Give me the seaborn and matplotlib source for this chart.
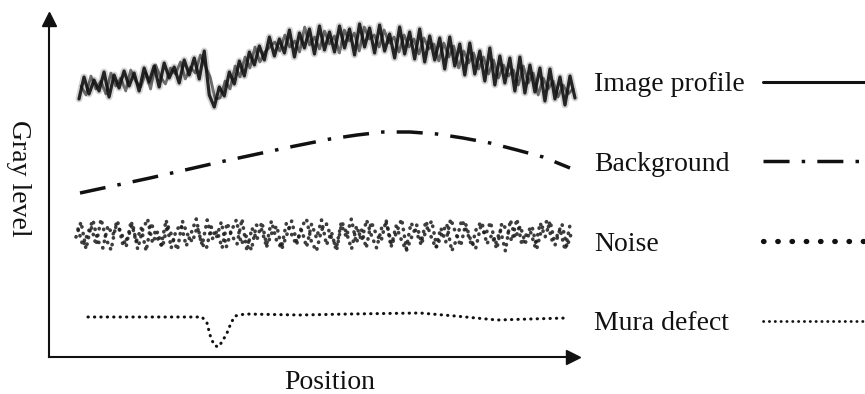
import numpy as np
import matplotlib.pyplot as plt
import seaborn as sns
from matplotlib.lines import Line2D

# gray level samples (arbitrary units, ~1 unit per pixel of the original figure)
profile_vals = [258, 280, 263, 277, 266, 285, 260, 282, 269, 286,
                271, 284, 266, 289, 275, 291, 270, 294, 279, 290,
                274, 297, 282, 299, 278, 306, 262, 250, 270, 261,
                285, 273, 296, 281, 305, 292, 311, 297, 320, 301,
                318, 304, 327, 300, 324, 309, 328, 303, 331, 307,
                325, 305, 331, 309, 328, 302, 333, 310, 329, 304,
                332, 306, 323, 299, 330, 303, 325, 298, 328, 295,
                321, 297, 319, 288, 320, 291, 313, 282, 314, 283,
                306, 276, 309, 272, 301, 274, 299, 266, 300, 264,
                292, 265, 289, 256, 288, 258, 280, 252, 281, 259]

profile_vals_b = [271, 262, 281, 268, 276, 263, 284, 271, 279, 266,
                  287, 276, 270, 284, 268, 292, 280, 273, 289, 283,
                  295, 278, 290, 284, 302, 291, 280, 258, 259, 276,
                  268, 291, 280, 300, 289, 310, 295, 305, 310, 315,
                  306, 322, 310, 316, 305, 330, 312, 320, 308, 326,
                  313, 321, 304, 327, 316, 324, 306, 330, 318, 322,
                  310, 327, 314, 320, 305, 322, 310, 318, 303, 319,
                  308, 313, 296, 314, 300, 311, 289, 306, 294, 304,
                  288, 300, 283, 297, 279, 292, 281, 287, 272, 291,
                  274, 284, 262, 279, 268, 276, 260, 272, 263, 268]

background_x = [31, 101, 171, 241, 281, 308, 334, 361, 388, 414, 441, 468, 494, 521]
background_y = [164, 179, 195, 210, 218, 222, 225, 225, 223, 219, 214, 207, 200, 189]

noise_vals = [120, 135, 108, 131, 112, 138, 118, 107, 133, 125,
              110, 136, 115, 129, 106, 134, 121, 112, 137, 109,
              127, 132, 111, 124, 138, 114, 108, 130, 119, 135,
              110, 126, 137, 113, 121, 107, 132, 128, 111, 136,
              117, 109, 134, 123, 112, 130, 138, 115, 106, 127,
              133, 119, 110, 136, 124, 108, 131, 116, 137, 121,
              109, 129, 134, 112, 125, 138, 107, 120, 132, 114,
              128, 136, 110, 123, 133, 106, 118, 137, 126, 111,
              130, 135, 113, 122, 108, 134, 127, 116, 138, 112,
              124, 131, 109, 129, 136, 117, 121, 133, 110, 126]

noise_vals_b = [128, 111, 124, 137, 116, 109, 131, 122, 135, 113,
                119, 133, 108, 127, 138, 114, 125, 110, 132, 120,
                107, 136, 123, 115, 130, 112, 137, 118, 126, 109,
                134, 121, 113, 138, 106, 129, 117, 135, 111, 124,
                131, 108, 122, 136, 115, 127, 110, 133, 119, 137,
                112, 125, 106, 132, 120, 138, 114, 128, 109, 135,
                123, 116, 137, 110, 131, 118, 107, 134, 126, 113,
                136, 121, 109, 129, 115, 138, 124, 111, 133, 117,
                108, 130, 122, 135, 113, 127, 106, 137, 119, 131,
                114, 126, 110, 134, 120, 136, 112, 128, 107, 132]

mura_x = [39, 101, 153, 158, 161, 165, 169, 173, 178, 182, 186, 196, 251, 301, 371, 406, 448, 481, 518]
mura_y = [40, 40, 40, 34, 22, 12, 10, 15, 24, 34, 41, 43, 42, 43, 44, 41, 37, 38, 39]

labels = ["Image profile", "Background", "Noise", "Mura defect"]

profile_x = np.linspace(30, 526, len(profile_vals))
profile_x_b = np.linspace(32, 524, len(profile_vals_b))
noise_x = np.linspace(27, 523, len(noise_vals))
noise_x_b = np.linspace(29, 521, len(noise_vals_b))

sns.set_theme(style="white")
plt.rcParams["font.family"] = ["Liberation Serif", "DejaVu Serif"]
ink = "#111111"

fig = plt.figure(figsize=(8.65, 3.94), dpi=100)
ax = fig.add_axes([49 / 865, 37 / 394, 531 / 865, 345 / 394])

# image profile: blurred jagged trace
sns.lineplot(x=profile_x, y=profile_vals, ax=ax, color=ink, lw=5, alpha=0.18, sort=False)
sns.lineplot(x=profile_x_b, y=profile_vals_b, ax=ax, color=ink, lw=2.0, alpha=0.6, sort=False)
sns.lineplot(x=profile_x, y=profile_vals, ax=ax, color=ink, lw=2.3, alpha=0.9, sort=False)

# background trend
sns.lineplot(x=background_x, y=background_y, ax=ax, color=ink, lw=2.5, sort=False,
             linestyle=(0, (7.5, 3.5, 1, 3.5)))

# noise band (two interleaved traces give a dense dot cloud)
for nx, ny in [(noise_x, noise_vals), (noise_x_b, noise_vals_b)]:
    sns.lineplot(x=nx, y=ny, ax=ax, color="#1c1c1c", lw=2.6, alpha=0.85, sort=False,
                 linestyle=(0, (0.1, 1.8)), dash_capstyle="round")

# mura defect
sns.lineplot(x=mura_x, y=mura_y, ax=ax, color=ink, lw=2.2, sort=False,
             linestyle=(0, (0.1, 2.0)), dash_capstyle="round")

ax.set_xlim(0, 531)
ax.set_ylim(0, 345)
ax.set_xticks([])
ax.set_yticks([])
for side in ["top", "right"]:
    ax.spines[side].set_visible(False)
for side in ["left", "bottom"]:
    ax.spines[side].set_color(ink)
    ax.spines[side].set_linewidth(1.5)
ax.spines["bottom"].set_bounds(0, 524)
ax.spines["left"].set_bounds(0, 338)
ax.plot(524, 0, ">", color=ink, ms=10, clip_on=False)
ax.plot(0, 338, "^", color=ink, ms=10, clip_on=False)

ax.set_xlabel("Position", fontsize=20, color=ink, va="center")
ax.xaxis.set_label_coords(0.529, -0.075)
ax.set_ylabel("Gray level", fontsize=20, color=ink, rotation=270, va="center")
ax.yaxis.set_label_coords(-0.057, 0.519)

handles = [
    Line2D([], [], color=ink, lw=2.2),
    Line2D([], [], color=ink, lw=2.5, linestyle=(0, (7.5, 3.5, 1, 3.5))),
    Line2D([], [], color=ink, lw=3.8, linestyle=(0, (0.1, 2.6)), dash_capstyle="round"),
    Line2D([], [], color=ink, lw=2.0, linestyle=(0, (0.1, 2.0)), dash_capstyle="round"),
]
leg = fig.legend(handles, labels, loc="upper left", bbox_to_anchor=(594 / 865, 1 - 72 / 394),
                 frameon=False, markerfirst=False, fontsize=20, labelcolor=ink,
                 handlelength=4.0, handletextpad=0.45, labelspacing=1.95,
                 borderpad=0, borderaxespad=0)
# left-align the labels and push the line samples to a common right column
for col in leg._legend_handle_box.get_children():
    col.align = "left"
    for row in col.get_children():
        row.mode = "expand"
        row.width = 280

fig.savefig("out.png", dpi=100)
